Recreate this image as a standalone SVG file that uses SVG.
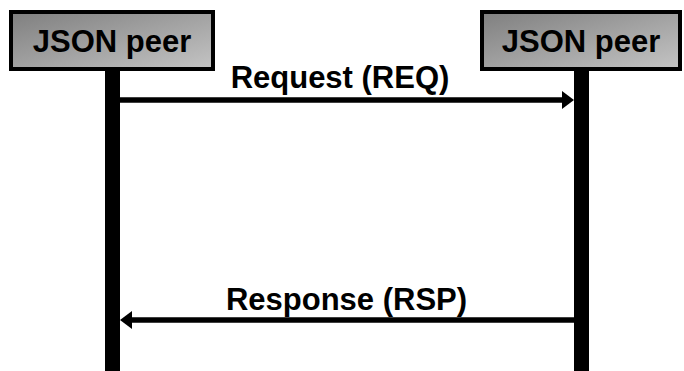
<svg xmlns="http://www.w3.org/2000/svg" width="684" height="371" viewBox="0 0 684 371">
  <defs>
    <linearGradient id="boxGrad" x1="0" y1="0" x2="1" y2="1">
      <stop offset="0" stop-color="#7f7f7f"/>
      <stop offset="1" stop-color="#c4c4c4"/>
    </linearGradient>
  </defs>
  <style>
    .box { fill: url(#boxGrad); stroke: #000; stroke-width: 4; }
    .life { fill: #000; }
    .lbl { font-family: "Liberation Sans", Arial, sans-serif; font-weight: bold; font-size: 31px; fill: #000; text-anchor: middle; }
    .msg { stroke: #000; stroke-width: 5.5; fill: none; }
    .head { fill: #000; }
  </style>
  <rect width="684" height="371" fill="#fff"/>
  <g id="peer-left">
    <rect class="life" x="105" y="70" width="15" height="301"/>
    <rect class="box" x="11" y="12" width="202" height="57"/>
    <text class="lbl" x="112" y="52">JSON peer</text>
  </g>
  <g id="peer-right">
    <rect class="life" x="574" y="70" width="15" height="301"/>
    <rect class="box" x="482" y="12" width="198" height="57"/>
    <text class="lbl" x="581" y="52">JSON peer</text>
  </g>
  <g id="connectors">
    <g id="req">
      <line class="msg" x1="120" y1="100" x2="564" y2="100"/>
      <polygon class="head" points="562,91 574,100 562,109"/>
      <text class="lbl" x="340" y="88">Request (REQ)</text>
    </g>
    <g id="rsp">
      <line class="msg" x1="574" y1="320" x2="130" y2="320"/>
      <polygon class="head" points="132,311 120,320 132,329"/>
      <text class="lbl" x="346.5" y="310">Response (RSP)</text>
    </g>
  </g>
</svg>
